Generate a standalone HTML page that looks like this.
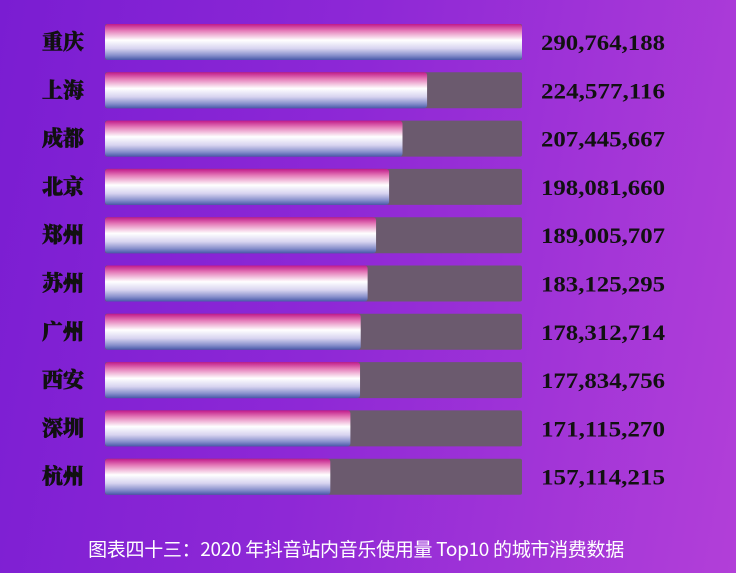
<!DOCTYPE html>
<html><head><meta charset="utf-8"><style>
html,body{margin:0;padding:0;}
body{width:736px;height:573px;overflow:hidden;background:linear-gradient(100deg,#7a1dd2 0%,#8e28d6 45%,#b23fd8 100%);position:relative;font-family:"Liberation Serif","Noto Serif CJK SC",serif;}
.cap{position:absolute;left:0;width:712px;top:535px;text-align:center;color:#fff;font-family:"Noto Sans CJK SC",sans-serif;font-size:19px;letter-spacing:-0.3px;}
</style></head><body>
<svg id="chart" width="736" height="520" style="position:absolute;left:0;top:0">
<defs>
<linearGradient id="bg" x1="0" y1="0" x2="0" y2="1">
<stop offset="0" stop-color="#c01a8a"/><stop offset="0.18" stop-color="#e47ab8"/>
<stop offset="0.45" stop-color="#ffffff"/><stop offset="0.68" stop-color="#d8d4f0"/>
<stop offset="0.87" stop-color="#8890cc"/><stop offset="1" stop-color="#4858a8"/>
</linearGradient>
</defs>
</svg>
<div class="cap">图表四十三：2020 年抖音站内音乐使用量 Top10 的城市消费数据</div>
<script>
const cities=["重庆","上海","成都","北京","郑州","苏州","广州","西安","深圳","杭州"];
const values=[290764188,224577116,207445667,198081660,189005707,183125295,178312714,177834756,171115270,157114215];
const maxVal=290764188;
const svg=document.getElementById('chart');
const NS='http://www.w3.org/2000/svg';
const x0=105,trackW=417,y0=24,step=48.3,h=36;
const xs=v=>trackW*v/maxVal;
cities.forEach((c,i)=>{
 const y=y0+i*step;
 const tr=document.createElementNS(NS,'rect');
 
 
 tr.setAttribute('x',x0);tr.setAttribute('y',y);tr.setAttribute('width',trackW);tr.setAttribute('height',h);tr.setAttribute('fill','#6b5a6e');tr.setAttribute('rx',2);
 svg.appendChild(tr);
 const b=document.createElementNS(NS,'rect');
 
 
 b.setAttribute('x',x0);b.setAttribute('y',y);b.setAttribute('width',xs(values[i]));b.setAttribute('height',h);b.setAttribute('fill','url(#bg)');b.setAttribute('rx',3);
 svg.appendChild(b);
 const t=document.createElementNS(NS,'text');
 
 
 t.setAttribute('x',42);t.setAttribute('y',y+h/2+7);t.setAttribute('font-size','21');t.setAttribute('font-weight','900');t.setAttribute('fill','#111');t.setAttribute('stroke','#111');t.setAttribute('stroke-width','0.6');
 t.textContent=c;svg.appendChild(t);
 const v=document.createElementNS(NS,'text');
 
 
 v.setAttribute('x',541);v.setAttribute('y',y+h/2+8);v.setAttribute('font-size','22');v.setAttribute('font-weight','bold');v.setAttribute('fill','#111');v.setAttribute('textLength','124');v.setAttribute('lengthAdjust','spacingAndGlyphs');
 v.textContent=values[i].toLocaleString('en-US');svg.appendChild(v);
});
</script>
</body></html>
